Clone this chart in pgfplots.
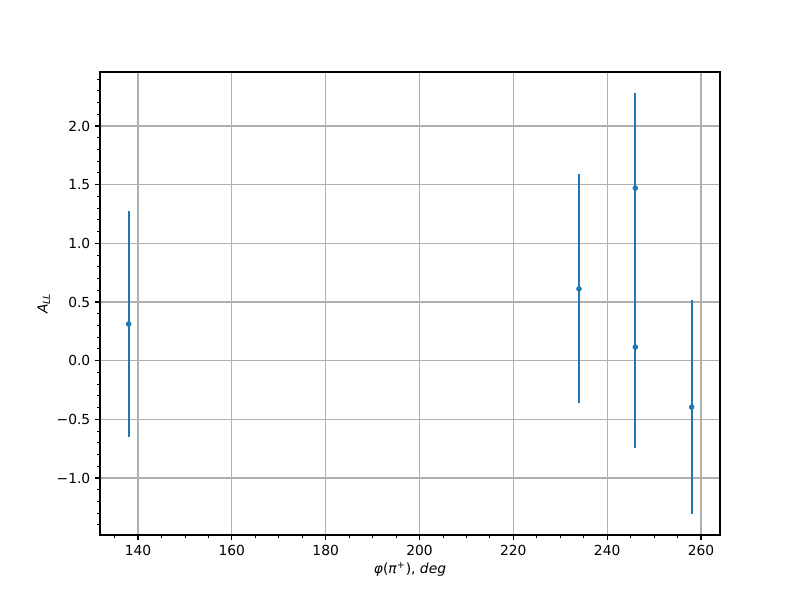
\documentclass[border=0pt]{standalone}
\usepackage{fontspec}
\setmainfont{DejaVu Sans}
\usepackage{pgfplots}
\pgfplotsset{compat=1.18}
\definecolor{mplblue}{HTML}{1F77B4}
\definecolor{gridgray}{HTML}{B0B0B0}
\begin{document}
\begin{tikzpicture}
\begin{axis}[
  scale only axis,
  width=6.2in, height=4.63in,
  xmin=131.9, xmax=264.05,
  ymin=-1.486, ymax=2.46,
  xtick={140,160,...,260},
  ytick={-1,-0.5,0,0.5,1,1.5,2},
  yticklabels={−1.0,−0.5,0.0,0.5,1.0,1.5,2.0},
  minor xtick={135,145,150,155,165,170,175,185,190,195,205,210,215,225,230,235,245,250,255},
  minor ytick={-1.4,-1.3,-1.2,-1.1,-0.9,-0.8,-0.7,-0.6,-0.4,-0.3,-0.2,-0.1,0.1,0.2,0.3,0.4,0.6,0.7,0.8,0.9,1.1,1.2,1.3,1.4,1.6,1.7,1.8,1.9,2.1,2.2,2.3,2.4},
  /pgf/number format/assume math mode=true,
  tick align=outside,
  major tick length=3.5pt,
  minor tick length=2pt,
  every tick/.style={black, line width=0.8pt},
  every minor tick/.style={black, line width=0.6pt},
  xtick pos=bottom, ytick pos=left,
  xmajorgrids, ymajorgrids,
  major grid style={gridgray, line width=0.8pt},
  axis line style={line width=0.8pt},
  tick label style={font=\fontsize{10}{12}\selectfont},
  label style={font=\fontsize{10}{12}\selectfont},
  xlabel={\textit{φ}(\textit{π}\textsuperscript{+}), \textit{deg}},
  ylabel={\textit{A}\textsubscript{\textit{LL}}},
  xlabel style={yshift=2pt},
  ylabel style={yshift=-2pt},
]
\addplot[
  only marks, mark=*, mark size=1.8pt, color=mplblue,
  error bars/.cd, y dir=both, y explicit,
  error bar style={line width=1.5pt, mplblue},
  error mark=none,
] table[x=x, y=y, y error=e] {
x y e
138 0.312 0.963
234 0.612 0.976
246 1.471 0.810
246 0.116 0.860
258 -0.396 0.910
};
\end{axis}
\pgfresetboundingbox
\useasboundingbox (-1in,-0.65in) rectangle (7.0in,5.35in);
\end{tikzpicture}
\end{document}
